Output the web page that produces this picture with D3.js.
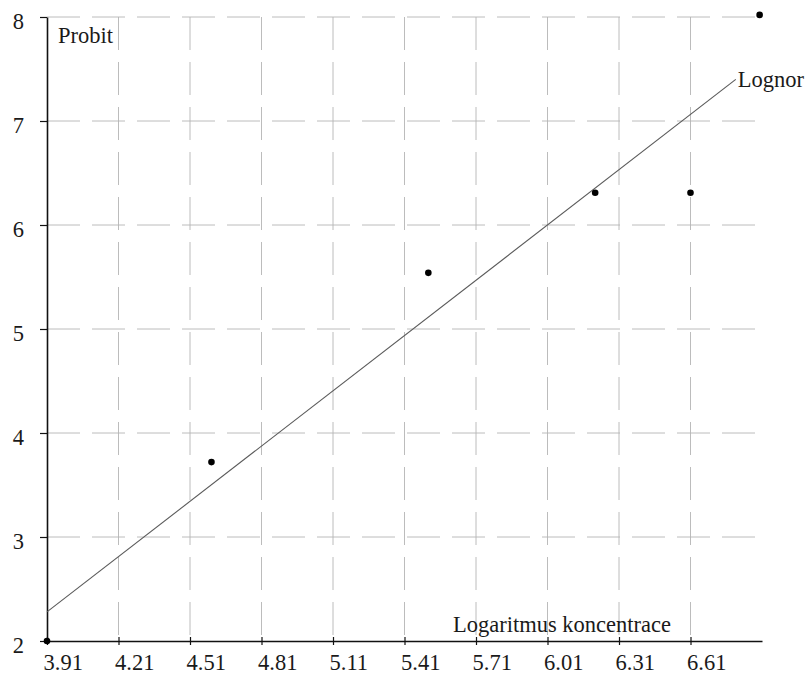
<!DOCTYPE html>
<html lang="cs">
<head>
  <meta charset="UTF-8">
  <title>Probit vs. logaritmus koncentrace</title>
  <script src="https://d3js.org/d3.v7.min.js"></script>
  <style>
    body { margin: 0; background: #fff; }
    svg { display: block; }
    text { font-family: "Liberation Serif", "Times New Roman", serif; fill: #1a1a1a; }
  </style>
</head>
<body>
<div id="chart"></div>
<script>
  // data
  const xTicks = [3.91, 4.21, 4.51, 4.81, 5.11, 5.41, 5.71, 6.01, 6.31, 6.61];
  const yTicks = [2, 3, 4, 5, 6, 7, 8];
  const pointsX = [3.91, 4.60, 5.51, 6.21, 6.61, 6.90];
  const pointsY = [2.00, 3.72, 5.54, 6.31, 6.31, 8.02];
  const fitX = [3.91, 6.80];
  const fitY = [2.28, 7.40];

  const width = 809, height = 675;
  const fs = 22.5;
  const svg = d3.select("#chart").append("svg").attr("width", width).attr("height", height);

  const x = d3.scaleLinear().domain([3.91, 6.91]).range([47, 762]);
  const y = d3.scaleLinear().domain([2, 8]).range([641, 17]);

  // grid
  const grid = svg.append("g").attr("stroke", "#b4b4b4").attr("stroke-width", 0.9)
    .attr("stroke-dasharray", "33,12").attr("fill", "none");
  grid.selectAll(".v").data(xTicks.slice(1)).join("line")
    .attr("x1", d => x(d)).attr("x2", d => x(d))
    .attr("y1", y(8)).attr("y2", y(2));
  grid.selectAll(".h").data(yTicks.slice(1)).join("line")
    .attr("x1", x(3.91)).attr("x2", x(6.91))
    .attr("y1", d => y(d)).attr("y2", d => y(d));

  // axes
  const xAxis = svg.append("g")
    .attr("transform", `translate(0,${y(2)})`)
    .call(d3.axisBottom(x).tickValues(xTicks).tickFormat(d3.format(".2f")).tickSizeInner(4).tickSizeOuter(0));
  xAxis.select(".domain").attr("stroke", "#111").attr("stroke-width", 1.6);
  xAxis.selectAll(".tick line").attr("y1", -4).attr("y2", 4).attr("stroke", "#111").attr("stroke-width", 1.2);
  xAxis.selectAll(".tick text").attr("font-size", fs).attr("text-anchor", "start")
    .attr("x", -4).attr("y", 29).attr("dy", 0).attr("fill", "#1a1a1a")
    .style("font-family", "'Liberation Serif', serif");

  const yAxis = svg.append("g")
    .attr("transform", `translate(${x(3.91)},0)`)
    .call(d3.axisLeft(y).tickValues(yTicks).tickFormat(d3.format("d")).tickSizeInner(7).tickSizeOuter(0));
  yAxis.select(".domain").attr("stroke", "#111").attr("stroke-width", 1.6);
  yAxis.selectAll(".tick line").attr("stroke", "#111").attr("stroke-width", 1.2);
  yAxis.selectAll(".tick text").attr("font-size", fs).attr("x", -23).attr("dy", "0.32em")
    .attr("y", 4).attr("fill", "#1a1a1a")
    .style("font-family", "'Liberation Serif', serif");

  // fitted line
  const fit = fitX.map((d, i) => [d, fitY[i]]);
  svg.append("path")
    .attr("d", d3.line().x(d => x(d[0])).y(d => y(d[1]))(fit))
    .attr("stroke", "#5a5a5a").attr("stroke-width", 1.1).attr("fill", "none");

  // points
  svg.selectAll(".pt").data(pointsX.map((d, i) => [d, pointsY[i]])).join("circle")
    .attr("class", "pt")
    .attr("cx", d => x(d[0])).attr("cy", d => y(d[1])).attr("r", 3.3)
    .attr("fill", "#000");

  // labels
  svg.append("text").attr("x", 58).attr("y", 43).attr("font-size", fs).text("Probit");
  svg.append("text").attr("x", x(6.80) + 2).attr("y", y(7.40) + 8).attr("font-size", fs).text("Lognor");
  svg.append("text").attr("x", 671).attr("y", 632).attr("text-anchor", "end")
    .attr("font-size", fs).text("Logaritmus koncentrace");
</script>
</body>
</html>
